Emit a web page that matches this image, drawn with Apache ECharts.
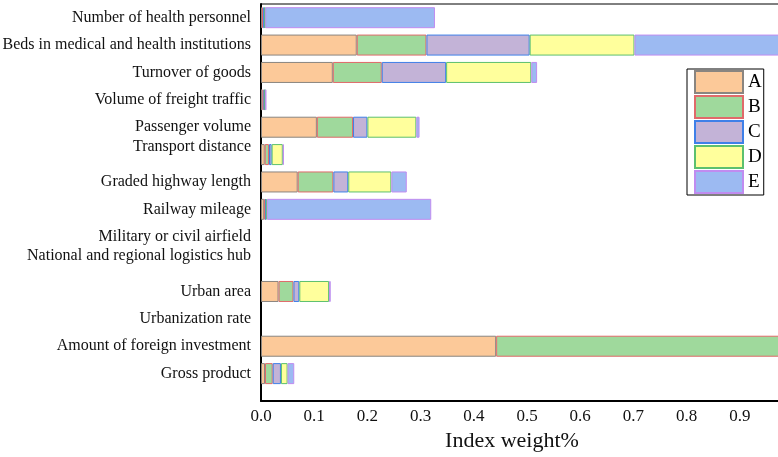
<!DOCTYPE html>
<html>
<head>
<meta charset="utf-8">
<script src="https://cdn.jsdelivr.net/npm/echarts@6/dist/echarts.min.js"></script>
<style>
html, body { margin: 0; padding: 0; background: #fff; }
#chart { width: 778px; height: 457px; }
</style>
</head>
<body>
<div id="chart"></div>
<script>
// categories, top to bottom
const categories = [
    'Number of health personnel',
    'Beds in medical and health institutions',
    'Turnover of goods',
    'Volume of freight traffic',
    'Passenger volume',
    'Transport distance',
    'Graded highway length',
    'Railway mileage',
    'Military or civil airfield',
    'National and regional logistics hub',
    'Urban area',
    'Urbanization rate',
    'Amount of foreign investment',
    'Gross product'
];
const seriesNames = ['A', 'B', 'C', 'D', 'E'];

const valuesA = [0.002, 0.180, 0.135, 0.003, 0.105, 0.007, 0.069, 0.006, 0, 0, 0.033, 0, 0.442, 0.0075];
const valuesB = [0.002, 0.131, 0.092, 0.002, 0.068, 0.008, 0.067, 0.002, 0, 0, 0.028, 0, 0.558, 0.0145];
const valuesC = [0.003, 0.194, 0.121, 0.002, 0.027, 0.005, 0.028, 0.001, 0, 0, 0.011, 0, 0, 0.0155];
const valuesD = [0.001, 0.197, 0.160, 0.001, 0.092, 0.021, 0.081, 0.002, 0, 0, 0.056, 0, 0, 0.0125];
const valuesE = [0.319, 0.300, 0.011, 0.002, 0.006, 0.002, 0.029, 0.309, 0, 0, 0.003, 0, 0, 0.0125];

// labels drawn a little above their bar slot
const raisedLabels = ['Transport distance', 'National and regional logistics hub'];

const fillColors = ['#fcc999', '#9fd99c', '#c3b3d7', '#ffff9c', '#9cbaf2'];
const edgeColors = ['#8a8580', '#e06a6a', '#3f80e8', '#5cc06e', '#c08cf0'];
const font = '"Liberation Serif", "Times New Roman", serif';

const chart = echarts.init(document.getElementById('chart'));
const allValues = [valuesA, valuesB, valuesC, valuesD, valuesE];

const option = {
    animation: false,
    grid: [
        { left: 261, top: 4, width: 532, height: 383.3, outerBoundsMode: 'none', containLabel: false },
        { left: 261, top: 4, width: 532, height: 397, outerBoundsMode: 'none', containLabel: false,
          show: true, borderColor: '#000', borderWidth: 1 }
    ],
    legend: {
        orient: 'vertical',
        left: 687,
        top: 69,
        icon: 'rect',
        itemWidth: 48,
        itemHeight: 22,
        itemGap: 1,
        padding: [1, 2, 1, 7],
        borderColor: '#000',
        borderWidth: 1,
        textStyle: { fontSize: 19, fontFamily: font, color: '#000' },
        data: seriesNames
    },
    xAxis: [
        { gridIndex: 0, type: 'value', min: 0, max: 1, show: false },
        {
            gridIndex: 1, type: 'value', min: 0, max: 1, interval: 0.1,
            axisLine: { show: true, lineStyle: { color: '#000', width: 2 } },
            axisTick: { show: false },
            splitLine: { show: false },
            axisLabel: { fontSize: 17, color: '#111', fontFamily: font, margin: 7, formatter: v => v.toFixed(1) },
            name: 'Index weight%',
            nameLocation: 'middle',
            nameGap: 29,
            nameTextStyle: { fontSize: 22, fontFamily: font, color: '#111', padding: [0, 30, 0, 0] }
        }
    ],
    yAxis: [
        {
            gridIndex: 0, type: 'category', inverse: true,
            data: categories.map(c => raisedLabels.includes(c)
                ? { value: c, textStyle: { verticalAlign: 'bottom' } } : c),
            axisLine: { show: false },
            axisTick: { show: false },
            axisLabel: { fontSize: 16, color: '#111', fontFamily: font, margin: 10 }
        },
        {
            gridIndex: 1, type: 'value', min: 0, max: 1,
            axisLine: { show: true, lineStyle: { color: '#000', width: 2 } },
            axisTick: { show: false },
            axisLabel: { show: false },
            splitLine: { show: false }
        }
    ],
    series: seriesNames.map((name, i) => ({
        name: name,
        type: 'bar',
        stack: 'weight',
        xAxisIndex: 0,
        yAxisIndex: 0,
        barWidth: 21,
        itemStyle: { color: fillColors[i], borderColor: edgeColors[i], borderWidth: 1 },
        emphasis: { disabled: true },
        data: allValues[i].map(v => v === 0 ? '-' : v)
    }))
};

chart.setOption(option);
</script>
</body>
</html>
